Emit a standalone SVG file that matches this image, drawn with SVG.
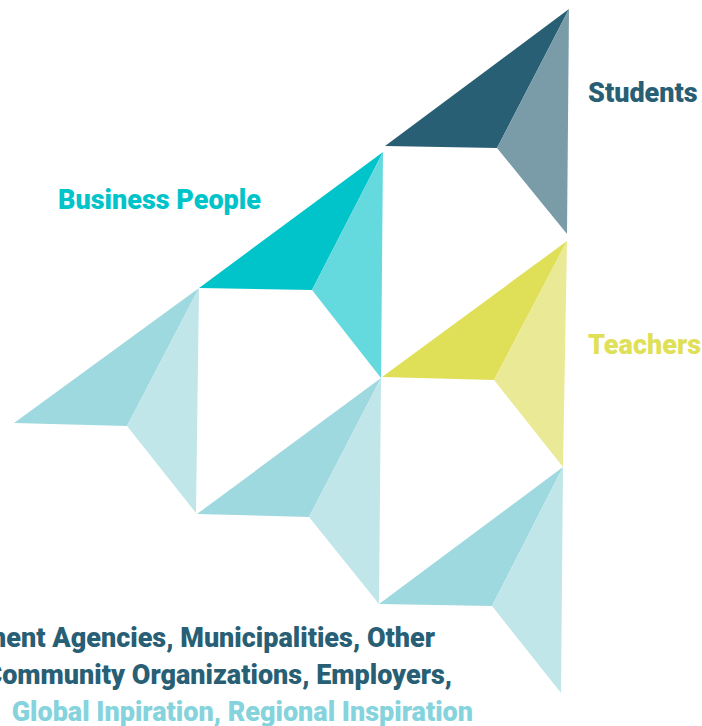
<svg xmlns="http://www.w3.org/2000/svg" width="702" height="726" viewBox="0 0 702 726">
<style>
text{font-family:Roboto,"Liberation Sans",sans-serif;font-weight:900;font-size:27px}
.dark{fill:#285f74}
.lb{fill:#85d3dc}
</style>
<rect width="702" height="726" fill="#ffffff"/>
<g id="students">
<polygon points="569,9 385,146 497,148" fill="#285f74"/>
<polygon points="569,9 497,148 567,234" fill="#7a9ca8"/>
<text x="588" y="102" class="dark">Students</text>
</g>
<g id="business-people">
<polygon points="383,152 199,288 312,290" fill="#00c4c9"/>
<polygon points="383,152 312,290 381,378" fill="#64d9de"/>
<text x="58" y="209" fill="#00c4c9">Business People</text>
</g>
<g id="teachers">
<polygon points="567,241 382,377 494,380" fill="#e0df58"/>
<polygon points="567,241 494,380 563,467" fill="#eaea96"/>
<text x="588" y="354" fill="#e0df58">Teachers</text>
</g>
<g id="others-left">
<polygon points="199,288 14,423 127,426" fill="#9fd9e0"/>
<polygon points="199,288 127,426 196,513" fill="#c1e6ea"/>
</g>
<g id="others-middle">
<polygon points="381,378 197,514 309,517" fill="#9fd9e0"/>
<polygon points="381,378 309,517 379,604" fill="#c1e6ea"/>
</g>
<g id="others-right">
<polygon points="563,467 379,604 492,606" fill="#9fd9e0"/>
<polygon points="563,467 492,606 561,693" fill="#c1e6ea"/>
</g>
<g id="others-label">
<text x="435" y="647" text-anchor="end" class="dark">Government Agencies, Municipalities, Other</text>
<text x="452" y="684" text-anchor="end" class="dark">Community Organizations, Employers,</text>
<text x="473" y="721" text-anchor="end" class="lb">Global Inpiration, Regional Inspiration</text>
</g>
<g id="connectors"></g>
</svg>
